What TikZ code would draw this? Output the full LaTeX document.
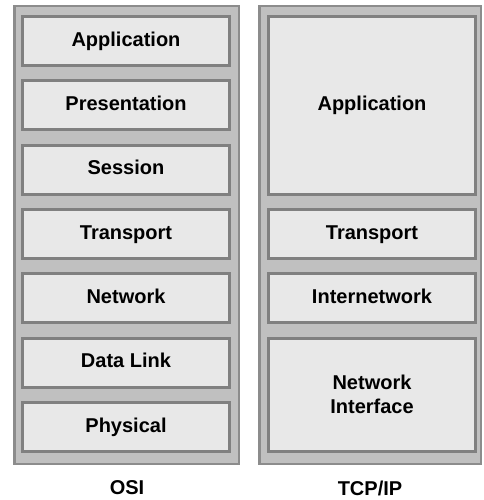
\documentclass[tikz,border=0pt]{standalone}
\usepackage{fontspec}
\setsansfont{Liberation Sans}
\usepackage{tikz}
\usetikzlibrary{positioning}

\definecolor{panelgray}{HTML}{C0C0C0}
\definecolor{paneledge}{HTML}{8C8C8C}
\definecolor{layerfill}{HTML}{E8E8E8}
\definecolor{layeredge}{HTML}{808080}
\newcommand{\layerfont}{\sffamily\bfseries\fontsize{20}{24}\selectfont}

\begin{document}
\begin{tikzpicture}[x=1pt, y=-1pt, node distance=12.3pt]
    % Define styles
    \tikzstyle{panel} = [rectangle, minimum height=457.5pt, draw=paneledge, line width=2.5pt, fill=panelgray]
    \tikzstyle{layer} = [rectangle, minimum width=207pt, minimum height=49pt, text height=14.5pt, text depth=4pt, text centered, align=center, draw=layeredge, line width=3pt, fill=layerfill, font=\layerfont]
    \tikzstyle{caption} = [font=\layerfont]

    \useasboundingbox (0,0) rectangle (483,500);

    % Panels
    \node[panel, minimum width=224.5pt] (osi) at (126.5,235) {};
    \node[panel, minimum width=221.5pt] (tcpip) at (370,235) {};

    % OSI layers
    \node[layer, anchor=north] (app) at (126,15) {Application};
    \node[layer, below=of app] (pres) {Presentation};
    \node[layer, below=of pres] (sess) {Session};
    \node[layer, below=of sess] (trans) {Transport};
    \node[layer, below=of trans] (net) {Network};
    \node[layer, below=of net] (link) {Data Link};
    \node[layer, below=of link] (phys) {Physical};

    % TCP/IP layers
    \node[layer, anchor=north, minimum height=177.6pt] (tapp) at (372,15) {Application};
    \node[layer, below=of tapp] (ttrans) {Transport};
    \node[layer, below=of ttrans] (tinet) {Internetwork};
    \node[layer, below=of tinet, minimum height=113.3pt, text height=, text depth=] (tnetif) {Network\\Interface};

    % Captions
    \node[caption] (osilabel) at (127,488) {OSI};
    \node[caption] (tcplabel) at (370,488) {TCP/IP};
\end{tikzpicture}
\end{document}
